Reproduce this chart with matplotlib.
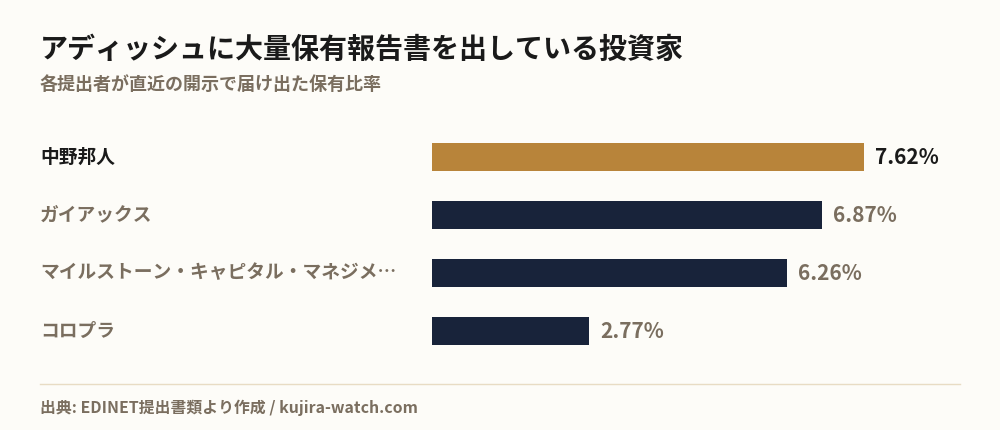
import matplotlib
matplotlib.use("Agg")
import matplotlib.pyplot as plt
from matplotlib.lines import Line2D

plt.rcParams['font.family'] = ['Noto Sans CJK JP', 'DejaVu Sans']

# data
investors = ["中野邦人", "ガイアックス", "マイルストーン・キャピタル・マネジメ…", "コロプラ"]
ratios = [7.62, 6.87, 6.26, 2.77]
highlight = [True, False, False, False]

bg = "#fdfcf8"
gold = "#b8843a"
navy = "#18233a"
dark = "#1a1a1a"
muted = "#7a6e5f"

fig = plt.figure(figsize=(10, 4.3), dpi=100, facecolor=bg)

# bars area: x starts at 432px, 10 units wide = 567px
ax = fig.add_axes([0.432, 70 / 430, 0.567, 232 / 430])
ax.set_facecolor(bg)
ypos = list(range(len(investors)))
colors = [gold if h else navy for h in highlight]
ax.barh(ypos, ratios, height=0.483, color=colors)
ax.set_xlim(0, 10)
ax.set_ylim(len(investors) - 0.5, -0.5)
ax.axis("off")

for y, v, h in zip(ypos, ratios, highlight):
    ax.annotate(f"{v:.2f}%", xy=(v, y), xytext=(11, -1), textcoords="offset pixels",
                va="center", ha="left", fontsize=15, fontweight="bold",
                color=dark if h else muted)
    ax.annotate(investors[y], xy=(0, y), xycoords=("figure fraction", "data"),
                xytext=(40, 0), textcoords="offset pixels",
                va="center", ha="left", fontsize=13.5, fontweight="bold",
                color=dark if h else muted)

fig.text(0.04, 1 - 50 / 430, "アディッシュに大量保有報告書を出している投資家",
         fontsize=20.2, fontweight="bold", color=dark, va="center", ha="left")
fig.text(0.04, 1 - 84 / 430, "各提出者が直近の開示で届け出た保有比率",
         fontsize=13, fontweight="bold", color=muted, va="center", ha="left")

fig.add_artist(Line2D([0.04, 0.96], [1 - 384 / 430] * 2, color="#e8dcc4",
                      linewidth=1, transform=fig.transFigure))
fig.text(0.04, 1 - 408 / 430, "出典: EDINET提出書類より作成 / kujira-watch.com",
         fontsize=11.4, fontweight="bold", color=muted, va="center", ha="left")

fig.savefig("out.png", dpi=100, facecolor=bg)
